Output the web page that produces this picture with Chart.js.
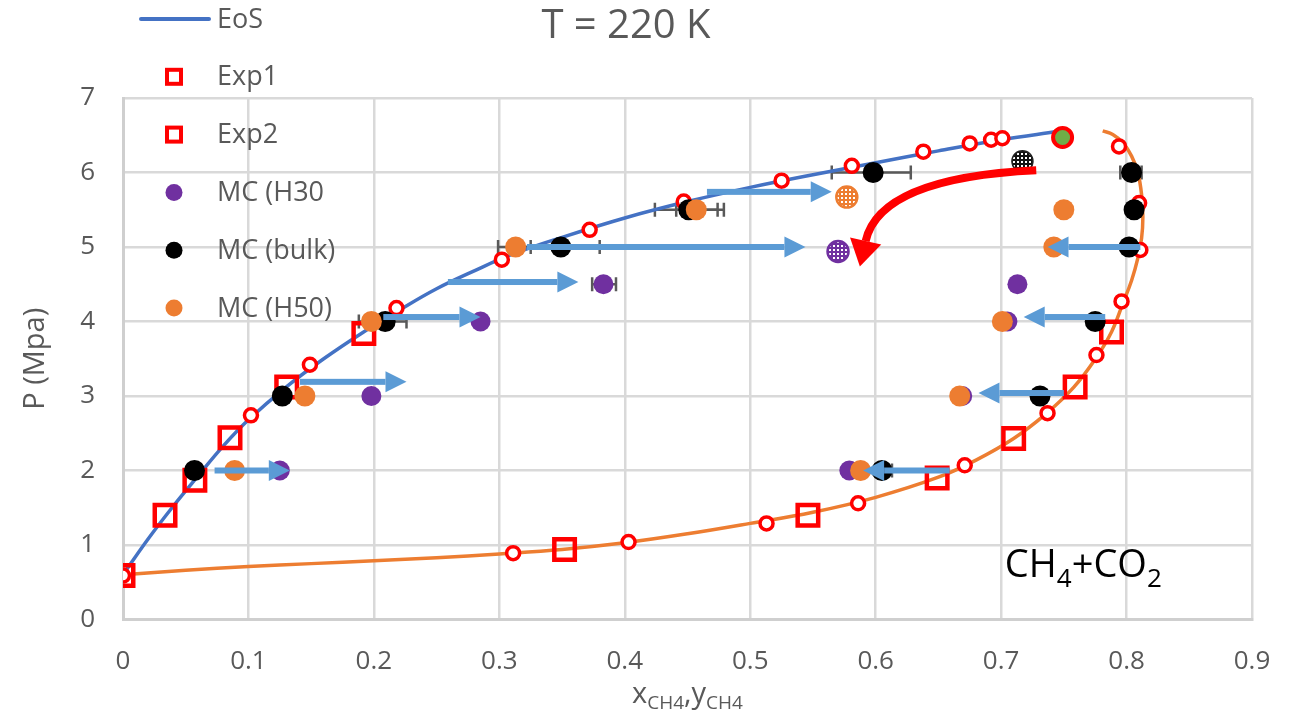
<!DOCTYPE html>
<html>
<head>
<meta charset="utf-8">
<script src="https://cdn.jsdelivr.net/npm/chart.js@4.4.1/dist/chart.umd.min.js"></script>
<style>
  html, body { margin: 0; padding: 0; background: #fff; }
  #wrap { position: relative; width: 1298px; height: 715px; }
</style>
</head>
<body>
<div id="wrap"><canvas id="chart" width="1298" height="715"></canvas></div>
<script>
// EoS, bubble branch (blue) and dew branch (orange)
const eosBubbleX = [0, 0.02, 0.04, 0.06, 0.08, 0.10, 0.13, 0.16, 0.19, 0.22, 0.25, 0.28, 0.31, 0.35, 0.40, 0.45, 0.50, 0.55, 0.60, 0.65, 0.70, 0.745];
const eosBubbleP = [0.60, 1.08, 1.52, 1.93, 2.33, 2.68, 3.12, 3.50, 3.84, 4.15, 4.44, 4.68, 4.90, 5.13, 5.39, 5.61, 5.80, 5.97, 6.13, 6.29, 6.44, 6.55];
const eosDewX = [0, 0.05, 0.10, 0.15, 0.20, 0.25, 0.30, 0.35, 0.40, 0.45, 0.50, 0.55, 0.60, 0.65, 0.68, 0.71, 0.735, 0.758, 0.776, 0.788, 0.797, 0.804, 0.809, 0.812, 0.813, 0.812, 0.809, 0.804, 0.797, 0.789, 0.781];
const eosDewP = [0.60, 0.66, 0.71, 0.75, 0.79, 0.83, 0.88, 0.94, 1.03, 1.15, 1.29, 1.44, 1.64, 1.91, 2.14, 2.43, 2.75, 3.12, 3.52, 3.86, 4.24, 4.55, 4.85, 5.12, 5.40, 5.70, 6.00, 6.22, 6.40, 6.51, 6.56];

// experiments
const exp1X = [0, 0.102, 0.149, 0.218, 0.302, 0.372, 0.447, 0.525, 0.581, 0.638, 0.675, 0.692, 0.701, 0.311, 0.403, 0.513, 0.586, 0.671, 0.737, 0.776, 0.796, 0.811, 0.810, 0.794];
const exp1P = [0.59, 2.74, 3.42, 4.18, 4.83, 5.23, 5.61, 5.89, 6.09, 6.28, 6.39, 6.44, 6.46, 0.89, 1.04, 1.29, 1.56, 2.07, 2.77, 3.55, 4.27, 4.96, 5.59, 6.35];
const exp2X = [0, 0.0335, 0.0573, 0.0853, 0.1305, 0.192, 0.352, 0.546, 0.649, 0.710, 0.759, 0.788];
const exp2P = [0.59, 1.40, 1.87, 2.44, 3.12, 3.84, 0.94, 1.40, 1.90, 2.43, 3.12, 3.86];

// Monte Carlo
const mcH30X = [0.125, 0.198, 0.285, 0.383, 0.579, 0.669, 0.705, 0.713];
const mcH30P = [2.0, 3.0, 4.0, 4.5, 2.0, 3.0, 4.0, 4.5];
const mcBulkX = [0.057, 0.127, 0.209, 0.349, 0.451, 0.598, 0.605, 0.731, 0.775, 0.802, 0.806, 0.804];
const mcBulkP = [2.0, 3.0, 4.0, 5.0, 5.5, 6.0, 2.0, 3.0, 4.0, 5.0, 5.5, 6.0];
const mcH50X = [0.089, 0.145, 0.198, 0.313, 0.457, 0.588, 0.667, 0.701, 0.742, 0.750];
const mcH50P = [2.0, 3.0, 4.0, 5.0, 5.5, 2.0, 3.0, 4.0, 5.0, 5.5];

// hatched markers and critical point
const hatchH30X = [0.570], hatchH30P = [4.94];
const hatchH50X = [0.577], hatchH50P = [5.67];
const hatchBulkX = [0.717], hatchBulkP = [6.15];
const critX = [0.749], critP = [6.47];

// x error bars
const errX  = [0.598, 0.804, 0.349, 0.313, 0.451, 0.457, 0.383, 0.209, 0.605];
const errP  = [6.0, 6.0, 5.0, 5.0, 5.5, 5.5, 4.5, 4.0, 2.0];
const errLo = [0.565, 0.795, 0.318, 0.299, 0.424, 0.441, 0.374, 0.188, 0.600];
const errHi = [0.628, 0.812, 0.380, 0.325, 0.479, 0.474, 0.393, 0.226, 0.613];

// blue shift arrows
const arrowFromX = [0.073, 0.141, 0.2075, 0.259, 0.322, 0.4655, 0.811, 0.783, 0.750, 0.659];
const arrowToX   = [0.133, 0.226, 0.285, 0.363, 0.544, 0.565, 0.737, 0.718, 0.682, 0.590];
const arrowP     = [2.0, 3.19, 4.06, 4.53, 5.0, 5.74, 5.0, 4.06, 3.04, 2.0];

// red curved arrow: start, control, end of shaft
const redArrowX = [0.728, 0.6035, 0.592];
const redArrowP = [6.03, 5.93, 5.08];

const xTicks = [0, 0.1, 0.2, 0.3, 0.4, 0.5, 0.6, 0.7, 0.8, 0.9];
const yTicks = [0, 1, 2, 3, 4, 5, 6, 7];

const RED = '#FF0000', BLUE = '#4472C4', ORANGE = '#ED7D31', PURPLE = '#7030A0', GREEN = '#70AD47', ARROW = '#5B9BD5', GREY = '#595959';
const FONT = "'Open Sans', 'Noto Sans', sans-serif";

const pts = (xs, ys) => xs.map((x, i) => ({ x: x, y: ys[i] }));

function makePattern(color) {
    const c = document.createElement('canvas');
    c.width = 4; c.height = 4;
    const g = c.getContext('2d');
    g.fillStyle = color; g.fillRect(0, 0, 4, 4);
    g.fillStyle = '#fff'; g.fillRect(1, 1, 2, 2);
    return g.createPattern(c, 'repeat');
}

const decor = {
    id: 'decor',
    beforeDatasetsDraw(chart) {
        const { ctx, scales: { x, y } } = chart;
        ctx.save();
        ctx.strokeStyle = GREY; ctx.lineWidth = 2.5;
        errX.forEach((_, i) => {
            const py = y.getPixelForValue(errP[i]);
            const a = x.getPixelForValue(errLo[i]), b = x.getPixelForValue(errHi[i]);
            ctx.beginPath();
            ctx.moveTo(a, py); ctx.lineTo(b, py);
            ctx.moveTo(a, py - 7); ctx.lineTo(a, py + 7);
            ctx.moveTo(b, py - 7); ctx.lineTo(b, py + 7);
            ctx.stroke();
        });
        ctx.restore();
    },
    afterDatasetsDraw(chart) {
        const { ctx, scales: { x, y } } = chart;
        ctx.save();
        // straight arrows
        ctx.fillStyle = ARROW;
        arrowP.forEach((p, i) => {
            const py = y.getPixelForValue(p);
            const x0 = x.getPixelForValue(arrowFromX[i]), x1 = x.getPixelForValue(arrowToX[i]);
            const d = Math.sign(x1 - x0), hl = 21, hw = 10.5;
            ctx.fillRect(Math.min(x0, x1 - d * hl), py - 3, Math.abs(x1 - d * hl - x0), 6);
            ctx.beginPath();
            ctx.moveTo(x1, py);
            ctx.lineTo(x1 - d * hl, py - hw);
            ctx.lineTo(x1 - d * hl, py + hw);
            ctx.closePath(); ctx.fill();
        });
        // curved red arrow
        const s = [x.getPixelForValue(redArrowX[0]), y.getPixelForValue(redArrowP[0])];
        const c = [x.getPixelForValue(redArrowX[1]), y.getPixelForValue(redArrowP[1])];
        const e = [x.getPixelForValue(redArrowX[2]), y.getPixelForValue(redArrowP[2])];
        ctx.strokeStyle = RED; ctx.fillStyle = RED; ctx.lineWidth = 8;
        ctx.beginPath(); ctx.moveTo(s[0], s[1]); ctx.quadraticCurveTo(c[0], c[1], e[0], e[1]); ctx.stroke();
        let dx = e[0] - c[0], dy = e[1] - c[1];
        const len = Math.hypot(dx, dy); dx /= len; dy /= len;
        const hl = 26, hw = 16;
        ctx.beginPath();
        ctx.moveTo(e[0] + dx * hl, e[1] + dy * hl);
        ctx.lineTo(e[0] - dy * hw, e[1] + dx * hw);
        ctx.lineTo(e[0] + dy * hw, e[1] - dx * hw);
        ctx.closePath(); ctx.fill();
        ctx.restore();
    },
    afterDraw(chart) {
        const { ctx, scales: { x, y } } = chart;
        ctx.save();
        // legend
        const items = [
            { t: 'line', c: BLUE, label: chart.data.datasets[0].label },
            { t: 'sq', c: RED, label: chart.data.datasets[2].label },
            { t: 'sq', c: RED, label: chart.data.datasets[3].label },
            { t: 'dot', c: PURPLE, label: chart.data.datasets[4].label },
            { t: 'dot', c: '#000', label: chart.data.datasets[5].label },
            { t: 'dot', c: ORANGE, label: chart.data.datasets[6].label }
        ];
        ctx.font = '27px ' + FONT; ctx.textBaseline = 'middle'; ctx.textAlign = 'left';
        items.forEach((it, i) => {
            const cy = 19 + i * 57.8, cx = 174;
            if (it.t === 'line') {
                ctx.strokeStyle = it.c; ctx.lineWidth = 4; ctx.lineCap = 'round';
                ctx.beginPath(); ctx.moveTo(141, cy); ctx.lineTo(209, cy); ctx.stroke();
            } else if (it.t === 'sq') {
                ctx.strokeStyle = it.c; ctx.lineWidth = 4;
                ctx.strokeRect(cx - 7, cy - 7, 14, 14);
            } else {
                ctx.fillStyle = it.c;
                ctx.beginPath(); ctx.arc(cx, cy, 8.5, 0, Math.PI * 2); ctx.fill();
            }
            ctx.fillStyle = GREY;
            ctx.fillText(it.label, 217, cy + 1);
        });

        // x axis title with subscripts
        const big = '29px ' + FONT, small = '19px ' + FONT;
        const parts = [['x', big, 0], ['CH4', small, 6], [',', big, 0], ['y', big, 0], ['CH4', small, 6]];
        let w = 0;
        parts.forEach(p => { ctx.font = p[1]; w += ctx.measureText(p[0]).width; });
        let tx = (chart.chartArea.left + chart.chartArea.right) / 2 - w / 2;
        ctx.fillStyle = GREY; ctx.textBaseline = 'alphabetic';
        parts.forEach(p => { ctx.font = p[1]; ctx.fillText(p[0], tx, 703 + p[2]); tx += ctx.measureText(p[0]).width; });

        // CH4+CO2 label
        const lx = x.getPixelForValue(0.703), ly = y.getPixelForValue(0.57);
        const lbl = [['CH', '38px ' + FONT, 0], ['4', '26px ' + FONT, 10], ['+CO', '38px ' + FONT, 0], ['2', '26px ' + FONT, 10]];
        let ax = lx;
        ctx.fillStyle = '#000';
        lbl.forEach(p => { ctx.font = p[1]; ctx.fillText(p[0], ax, ly + p[2]); ax += ctx.measureText(p[0]).width; });
        ctx.restore();
    }
};

const ctx = document.getElementById('chart').getContext('2d');
new Chart(ctx, {
    type: 'scatter',
    data: {
        datasets: [
            { label: 'EoS', data: pts(eosBubbleX, eosBubbleP), showLine: true, borderColor: BLUE, borderWidth: 3.5, pointRadius: 0, tension: 0.4, order: 8 },
            { label: 'EoS dew', data: pts(eosDewX, eosDewP), showLine: true, borderColor: ORANGE, borderWidth: 3.5, pointRadius: 0, tension: 0.4, order: 7 },
            { label: 'Exp1', data: pts(exp1X, exp1P), pointStyle: 'circle', pointRadius: 6.5, borderWidth: 3.5, borderColor: RED, backgroundColor: '#fff', order: 5 },
            { label: 'Exp2', data: pts(exp2X, exp2P), pointStyle: 'rect', pointRadius: 14.5, borderWidth: 4.5, borderColor: RED, backgroundColor: 'rgba(0,0,0,0)', order: 6 },
            { label: 'MC (H30', data: pts(mcH30X, mcH30P), pointRadius: 10, borderWidth: 0, backgroundColor: PURPLE, order: 4 },
            { label: 'MC (bulk)', data: pts(mcBulkX, mcBulkP), pointRadius: 10.5, borderWidth: 0, backgroundColor: '#000', order: 3 },
            { label: 'MC (H50)', data: pts(mcH50X, mcH50P), pointRadius: 10.5, borderWidth: 0, backgroundColor: ORANGE, order: 2 },
            { label: 'H30 hatched', data: pts(hatchH30X, hatchH30P), pointRadius: 10.5, borderWidth: 2.5, borderColor: PURPLE, backgroundColor: makePattern(PURPLE), order: 1 },
            { label: 'H50 hatched', data: pts(hatchH50X, hatchH50P), pointRadius: 10.5, borderWidth: 2.5, borderColor: ORANGE, backgroundColor: makePattern(ORANGE), order: 1 },
            { label: 'bulk hatched', data: pts(hatchBulkX, hatchBulkP), pointRadius: 10.5, borderWidth: 1.5, borderColor: '#222', backgroundColor: makePattern('#111'), order: 1 },
            { label: 'critical', data: pts(critX, critP), pointRadius: 9.5, borderWidth: 4, borderColor: RED, backgroundColor: GREEN, order: 0 }
        ]
    },
    options: {
        responsive: false,
        animation: false,
        devicePixelRatio: 1,
        events: [],
        layout: { padding: { left: 0, right: 46, top: 0, bottom: 0 } },
        plugins: {
            legend: { display: false },
            tooltip: { enabled: false },
            title: { display: true, text: 'T = 220 K', color: GREY, font: { family: FONT, size: 40, weight: 'normal' }, padding: { top: 3, bottom: 47 } }
        },
        scales: {
            x: {
                type: 'linear', min: 0, max: 0.9,
                afterBuildTicks: s => { s.ticks = xTicks.map(v => ({ value: v })); },
                afterFit: s => { s.height = 95.5; },
                ticks: { color: GREY, font: { family: FONT, size: 26 }, padding: 26, callback: v => String(Math.round(v * 10) / 10) },
                grid: { color: '#D9D9D9', lineWidth: 2.5, drawTicks: false },
                border: { color: '#CFCFCF', width: 3 },
                title: { display: false }
            },
            y: {
                type: 'linear', min: 0, max: 7,
                afterBuildTicks: s => { s.ticks = yTicks.map(v => ({ value: v })); },
                afterFit: s => { s.width = 123; },
                ticks: { color: GREY, font: { family: FONT, size: 26 }, padding: 28 },
                grid: { color: '#D9D9D9', lineWidth: 2.5, drawTicks: false },
                border: { color: '#CFCFCF', width: 3 },
                title: { display: true, text: 'P (Mpa)', color: GREY, font: { family: FONT, size: 29 }, padding: { top: 18, bottom: 0 } }
            }
        }
    },
    plugins: [decor]
});
</script>
</body>
</html>
